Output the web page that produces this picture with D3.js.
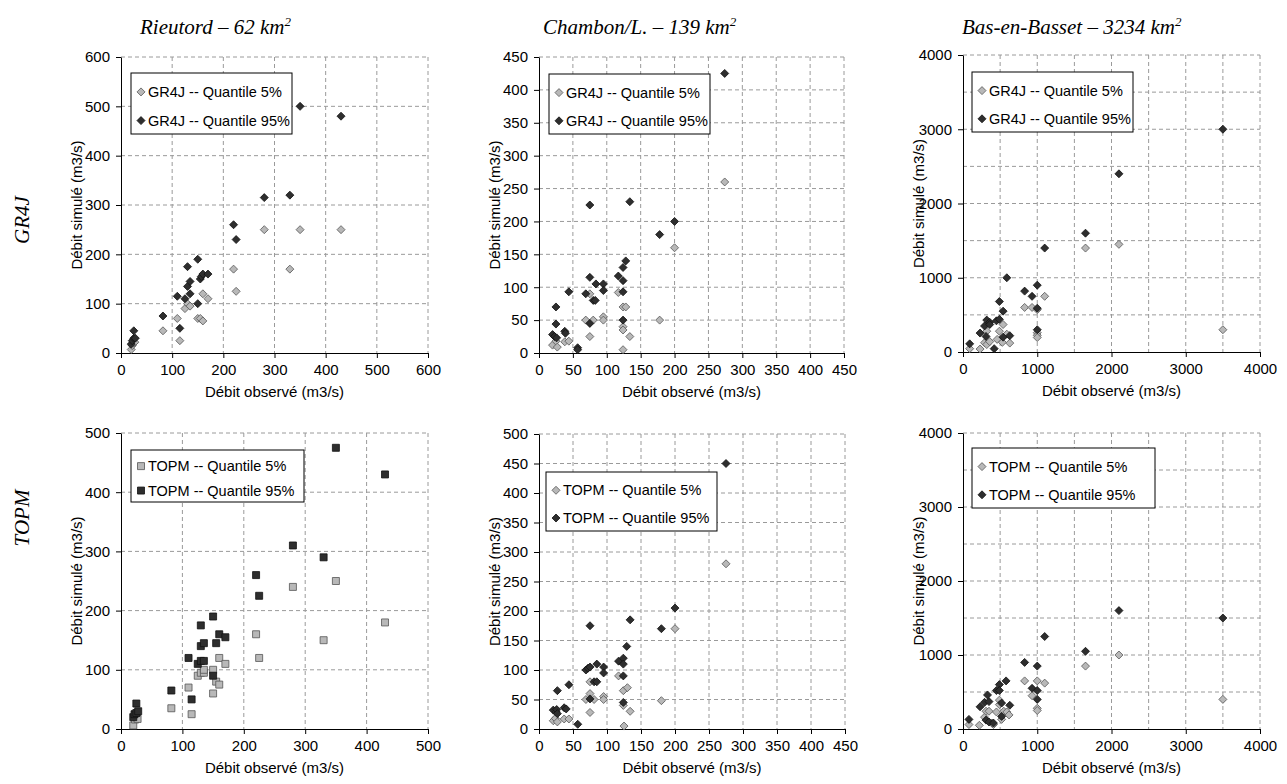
<!DOCTYPE html>
<html><head><meta charset="utf-8">
<script src="https://cdn.jsdelivr.net/npm/d3@7"></script>
<style>body{margin:0;background:#fff}svg{display:block}</style>
</head><body><svg id="c" width="1287" height="784"></svg>
<script>
// ---------- text ----------
const stationTitles = ["Rieutord – 62 km", "Chambon/L. – 139 km", "Bas-en-Basset – 3234 km"];
const rowLabels = ["GR4J", "TOPM"];
const xAxisTitle = "Débit observé (m3/s)";
const yAxisTitle = "Débit simulé (m3/s)";
const legendGR4J = ["GR4J -- Quantile 5%", "GR4J -- Quantile 95%"];
const legendTOPM = ["TOPM -- Quantile 5%", "TOPM -- Quantile 95%"];

// ---------- ticks ----------
const ticks600 = [0,100,200,300,400,500,600];
const ticks500 = [0,100,200,300,400,500];
const ticks450 = [0,50,100,150,200,250,300,350,400,450];
const ticks500by50 = [0,50,100,150,200,250,300,350,400,450,500];
const ticks4000 = [0,1000,2000,3000,4000];
const grid4000 = [0,500,1000,1500,2000,2500,3000,3500,4000];

// ---------- data [observed, simulated] ----------
const gr4jRieutordQ5 = [[20,7],[22,15],[25,20],[27,22],[82,45],[110,70],[115,25],[125,90],[130,100],[135,95],[150,70],[155,70],[160,65],[160,120],[170,110],[220,170],[225,125],[280,250],[330,170],[350,250],[430,250]];
const gr4jRieutordQ95 = [[20,18],[22,25],[25,30],[25,45],[28,30],[82,75],[110,115],[115,50],[125,110],[130,135],[130,175],[135,120],[135,145],[150,190],[150,100],[155,150],[157,155],[160,160],[170,160],[220,260],[225,230],[280,315],[330,320],[350,500],[430,480]];

const gr4jChambonQ5 = [[20,12],[25,18],[27,9],[38,17],[44,18],[69,50],[75,90],[75,25],[80,50],[95,55],[95,50],[117,92],[124,70],[128,70],[124,40],[124,35],[124,5],[134,25],[178,50],[200,160],[274,260]];
const gr4jChambonQ95 = [[20,28],[25,70],[25,44],[23,25],[26,23],[38,33],[39,30],[44,93],[57,8],[57,5],[69,90],[75,115],[75,225],[75,45],[80,80],[83,80],[84,105],[95,105],[95,95],[117,117],[124,130],[128,140],[124,110],[124,93],[124,50],[134,230],[178,180],[200,200],[274,425]];

const gr4jBasQ5 = [[90,45],[230,40],[290,125],[320,100],[320,280],[360,140],[460,170],[490,280],[530,130],[540,370],[590,240],[630,120],[830,600],[930,600],[1000,570],[1000,260],[1000,225],[1000,195],[1100,750],[1650,1400],[2100,1450],[3500,300]];
const gr4jBasQ95 = [[90,110],[230,255],[290,350],[320,430],[310,210],[360,400],[360,370],[420,45],[450,420],[490,680],[490,440],[540,550],[540,200],[590,1000],[630,220],[830,820],[930,750],[1000,900],[1000,590],[1000,300],[1100,1400],[1650,1600],[2100,2400],[3500,3000]];

const topmRieutordQ5 = [[20,6],[23,16],[26,20],[27,17],[82,35],[110,70],[115,25],[125,90],[130,95],[135,95],[135,100],[150,100],[150,60],[155,80],[160,75],[160,120],[170,110],[220,160],[225,120],[280,240],[330,150],[350,250],[430,180]];
const topmRieutordQ95 = [[20,20],[22,25],[25,43],[25,27],[28,30],[82,65],[110,120],[115,50],[125,110],[130,175],[130,140],[130,115],[135,115],[135,145],[150,190],[150,90],[155,145],[160,160],[170,155],[220,260],[225,225],[280,310],[330,290],[350,475],[430,430]];

const topmChambonQ5 = [[21,14],[24,18],[27,12],[37,17],[44,17],[69,50],[75,80],[75,60],[75,28],[81,50],[95,55],[95,50],[117,90],[124,65],[130,70],[124,40],[125,5],[134,30],[180,48],[200,170],[275,280]];
const topmChambonQ95 = [[21,32],[25,29],[26,33],[27,26],[27,65],[37,36],[40,34],[44,75],[57,8],[69,100],[72,103],[75,105],[75,175],[75,51],[81,80],[85,80],[85,110],[95,105],[95,95],[117,115],[124,120],[124,110],[124,90],[124,45],[129,140],[134,185],[180,170],[200,205],[275,450]];

const topmBasQ5 = [[80,60],[220,50],[290,160],[310,240],[350,240],[390,80],[410,60],[450,230],[490,390],[490,330],[520,130],[550,240],[590,230],[620,190],[830,650],[930,450],[1000,650],[1000,280],[1000,250],[1100,620],[1650,850],[2100,1000],[3500,400]];
const topmBasQ95 = [[80,130],[230,300],[290,360],[330,460],[350,370],[310,120],[350,95],[410,80],[450,520],[490,600],[490,520],[520,350],[520,170],[580,650],[630,320],[830,900],[930,550],[1000,850],[1000,520],[1000,400],[1100,1250],[1650,1050],[2100,1600],[3500,1500]];

// ---------- layout ----------
const panels = [
  {x0:121,x1:428,y0:57,y1:353, xmax:600, ymax:600, xt:ticks600, yt:ticks600, xg:ticks600, yg:ticks600, q5:gr4jRieutordQ5, q95:gr4jRieutordQ95, shape:"diamond", leg:legendGR4J, lx:131, ly:73, lw:161, lh:61},
  {x0:539,x1:844,y0:57,y1:353, xmax:450, ymax:450, xt:ticks450, yt:ticks450, xg:ticks450, yg:ticks450, q5:gr4jChambonQ5, q95:gr4jChambonQ95, shape:"diamond", leg:legendGR4J, lx:549, ly:74, lw:161, lh:60},
  {x0:963,x1:1260,y0:55,y1:352, xmax:4000, ymax:4000, xt:ticks4000, yt:ticks4000, xg:grid4000, yg:grid4000, q5:gr4jBasQ5, q95:gr4jBasQ95, shape:"diamond", leg:legendGR4J, lx:972, ly:72, lw:161, lh:60},
  {x0:121,x1:428,y0:433,y1:729, xmax:500, ymax:500, xt:ticks500, yt:ticks500, xg:ticks500, yg:ticks500, q5:topmRieutordQ5, q95:topmRieutordQ95, shape:"square", leg:legendTOPM, lx:131, ly:450, lw:173, lh:52},
  {x0:539,x1:845,y0:434,y1:729, xmax:450, ymax:500, xt:ticks450, yt:ticks500by50, xg:ticks450, yg:ticks500by50, q5:topmChambonQ5, q95:topmChambonQ95, shape:"diamond", leg:legendTOPM, lx:546, ly:472, lw:171, lh:59},
  {x0:963,x1:1260,y0:433,y1:729, xmax:4000, ymax:4000, xt:ticks4000, yt:ticks4000, xg:grid4000, yg:grid4000, q5:topmBasQ5, q95:topmBasQ95, shape:"diamond", leg:legendTOPM, lx:972, ly:448, lw:183, lh:60}
];

const svg = d3.select("#c");
const FONT = "Arial, 'Liberation Sans', sans-serif";
const SERIF = "'Times New Roman', 'Liberation Serif', serif";
const lightFill = "#b8b8b8", lightStroke = "#555", darkFill = "#2e2e2e", darkStroke = "#111";

function markerPath(shape, s) {
  return shape === "square" ? d3.symbol(d3.symbolSquare, s*s)() : `M0,${-s/2}L${s/2},0L0,${s/2}L${-s/2},0Z`;
}

panels.forEach(p => {
  const x = d3.scaleLinear().domain([0, p.xmax]).range([p.x0, p.x1]);
  const y = d3.scaleLinear().domain([0, p.ymax]).range([p.y1, p.y0]);
  const g = svg.append("g");

  // gridlines
  g.selectAll(".gx").data(p.xg.filter(v => v > 0)).enter().append("line")
    .attr("x1", d => x(d)).attr("x2", d => x(d)).attr("y1", p.y0).attr("y2", p.y1)
    .attr("stroke", "#9a9a9a").attr("stroke-width", 1).attr("stroke-dasharray", "4,3");
  g.selectAll(".gy").data(p.yg.filter(v => v > 0)).enter().append("line")
    .attr("x1", p.x0).attr("x2", p.x1).attr("y1", d => y(d)).attr("y2", d => y(d))
    .attr("stroke", "#9a9a9a").attr("stroke-width", 1).attr("stroke-dasharray", "4,3");

  // axes
  const xa = g.append("g").attr("transform", `translate(0,${p.y1})`)
    .call(d3.axisBottom(x).tickValues(p.xt).tickSize(5).tickSizeOuter(0).tickPadding(6).tickFormat(d3.format("d")));
  const ya = g.append("g").attr("transform", `translate(${p.x0},0)`)
    .call(d3.axisLeft(y).tickValues(p.yt).tickSize(5).tickSizeOuter(0).tickPadding(6).tickFormat(d3.format("d")));
  [xa, ya].forEach(a => {
    a.selectAll("text").attr("font-family", FONT).attr("font-size", 15).attr("fill", "#000");
    a.selectAll("line,path").attr("stroke", "#000");
  });

  // axis titles
  g.append("text").attr("x", (p.x0 + p.x1) / 2).attr("y", p.y1 + 44)
    .attr("text-anchor", "middle").attr("font-family", FONT).attr("font-size", 15).text(xAxisTitle);
  g.append("text").attr("transform", `translate(${p.x0 - 39},${(p.y0 + p.y1) / 2}) rotate(-90)`)
    .attr("text-anchor", "middle").attr("font-family", FONT).attr("font-size", 15).text(yAxisTitle);

  // points
  const ms = p.shape === "square" ? 7 : 8;
  g.selectAll(".p5").data(p.q5).enter().append("path")
    .attr("d", markerPath(p.shape, ms))
    .attr("transform", d => `translate(${x(d[0])},${y(d[1])})`)
    .attr("fill", lightFill).attr("stroke", lightStroke).attr("stroke-width", 0.8);
  g.selectAll(".p95").data(p.q95).enter().append("path")
    .attr("d", markerPath(p.shape, ms))
    .attr("transform", d => `translate(${x(d[0])},${y(d[1])})`)
    .attr("fill", darkFill).attr("stroke", darkStroke).attr("stroke-width", 0.8);

  // legend
  const lg = g.append("g");
  lg.append("rect").attr("x", p.lx).attr("y", p.ly).attr("width", p.lw).attr("height", p.lh)
    .attr("fill", "#fff").attr("stroke", "#000").attr("stroke-width", 1);
  const rowY = [p.ly + p.lh * 0.31, p.ly + p.lh * 0.78];
  p.leg.forEach((t, i) => {
    lg.append("path").attr("d", markerPath(p.shape, ms))
      .attr("transform", `translate(${p.lx + 10},${rowY[i]})`)
      .attr("fill", i ? darkFill : lightFill).attr("stroke", i ? darkStroke : lightStroke).attr("stroke-width", 0.8);
    lg.append("text").attr("x", p.lx + 17).attr("y", rowY[i]).attr("dy", "0.35em")
      .attr("font-family", FONT).attr("font-size", 14.5).text(t);
  });
});

// station titles
const titleX = [140, 543, 962];
stationTitles.forEach((t, i) => {
  const tx = svg.append("text").attr("x", titleX[i]).attr("y", 34)
    .attr("font-family", SERIF).attr("font-style", "italic").attr("font-size", 21);
  tx.append("tspan").text(t);
  tx.append("tspan").attr("font-size", 13).attr("dy", -8).text("2");
});

// row labels
const rowY = [220, 518];
rowLabels.forEach((t, i) => {
  svg.append("text").attr("transform", `translate(29,${rowY[i]}) rotate(-90)`)
    .attr("text-anchor", "middle").attr("font-family", SERIF).attr("font-style", "italic")
    .attr("font-size", 21).text(t);
});
</script></body></html>
